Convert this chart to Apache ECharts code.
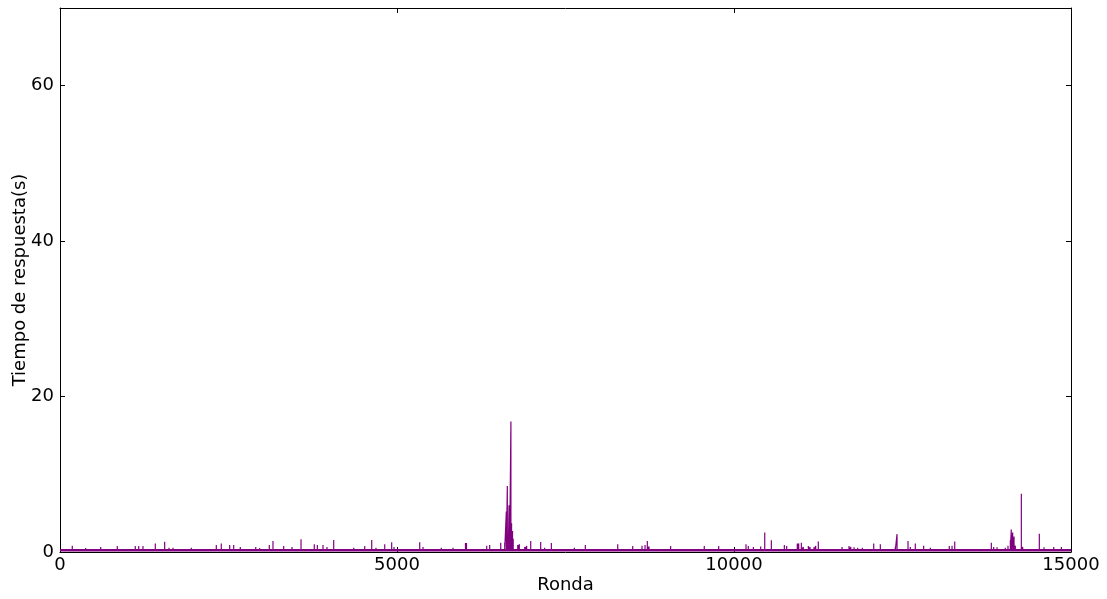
<!DOCTYPE html>
<html lang="es">
<head>
<meta charset="UTF-8">
<title>Tiempo de respuesta</title>
<script src="https://cdn.jsdelivr.net/npm/echarts@6/dist/echarts.min.js"></script>
<style>
  body { margin: 0; background: #fff; }
  #main { width: 1107px; height: 599px; }
</style>
</head>
<body>
<div id="main"></div>
<script type="text/javascript">
  // rounds where the response time jumps above the baseline
  var spikeRounds = [182, 381, 604, 850, 1117, 1168, 1231, 1414, 1553, 1617, 1677, 1948,
    2319, 2393, 2518, 2577, 2675, 2904, 2963, 3105, 3160, 3319, 3442, 3576, 3739, 3773,
    3818, 3902, 3961, 4061, 4174, 4358, 4521, 4625, 4688, 4818, 4921, 4956, 5337, 5386,
    5657, 5831, 6016, 6031, 6331, 6375, 6469, 6539, 6598, 6622, 6637, 6652, 6662, 6672,
    6690, 6700, 6714, 6724, 6791, 6815, 6895, 6924, 6984, 7132, 7191, 7290, 7384, 7533,
    7631, 7730, 7794, 8275, 8413, 8497, 8635, 8680, 8714, 8739, 8883, 8917, 9060, 9189,
    9322, 9559, 9773, 9877, 9971, 10055, 10178, 10212, 10287, 10396, 10456, 10554, 10747,
    10782, 10939, 10960, 10999, 11028, 11103, 11128, 11187, 11212, 11251, 11474, 11603,
    11706, 11732, 11781, 11835, 11904, 12073, 12171, 12255, 12304, 12393, 12419, 12582,
    12616, 12690, 12814, 12913, 13037, 13111, 13194, 13235, 13275, 13631, 13818, 13853,
    13902, 14025, 14065, 14100, 14114, 14135, 14155, 14174, 14263, 14283, 14373, 14471,
    14530, 14600, 14744, 14857];
  // peak time (s) at each of those rounds
  var spikeTimes = [0.8, 0.5, 0.65, 0.77, 0.77, 0.77, 0.77, 1.1, 1.33, 0.56, 0.56, 0.56,
    0.9, 1.1, 0.9, 0.9, 0.64, 0.64, 0.5, 0.9, 1.41, 0.77, 0.64, 1.63, 0.47, 1.0,
    0.9, 0.9, 0.64, 1.54, 0.47, 0.56, 0.77, 1.54, 0.56, 1.0, 1.25, 0.64, 1.25, 0.64,
    0.56, 0.56, 1.15, 1.15, 0.8, 0.9, 0.47, 1.2, 1.2, 5.2, 8.5, 2.0, 6.0, 4.0,
    16.8, 3.7, 2.7, 1.7, 0.9, 1.0, 0.64, 0.77, 1.4, 1.3, 0.56, 1.15, 0.45, 0.47,
    0.56, 0.47, 0.9, 1.0, 0.47, 0.77, 0.8, 0.9, 1.4, 0.7, 0.47, 0.47, 0.77, 0.47,
    0.47, 0.77, 0.77, 0.47, 0.47, 0.47, 1.0, 0.77, 0.64, 0.7, 2.5, 1.5, 0.9,
    0.77, 1.1, 1.1, 1.2, 0.64, 0.77, 0.64, 0.6, 0.77, 1.35, 0.47, 0.64,
    0.77, 0.64, 0.6, 0.56, 0.56, 1.1, 1.0, 0.47, 0.47, 0.64, 2.3, 1.4,
    0.64, 1.1, 0.8, 0.56, 0.47, 0.47, 0.77, 0.8, 1.35, 0.47, 1.2, 0.64,
    0.6, 0.56, 0.8, 1.5, 2.9, 2.5, 2.0, 0.8, 7.5, 0.64, 0.47, 0.47,
    2.35, 0.6, 0.64, 0.64];
  var baseTime = 0.22;
  var xTicks = [0, 5000, 10000, 15000];
  var yTicks = [0, 20, 40, 60];

  var lineData = [[0, baseTime]];
  for (var i = 0; i < spikeRounds.length; i++) {
    lineData.push([spikeRounds[i], baseTime]);
    lineData.push([spikeRounds[i], spikeTimes[i]]);
    lineData.push([spikeRounds[i], baseTime]);
  }
  lineData.push([15000, baseTime]);

  var font = 'DejaVu Sans';
  var axisLine = { show: true, onZero: false, lineStyle: { color: '#000', width: 1 } };
  function ticks(vals) {
    return { show: true, inside: true, length: 5, customValues: vals, lineStyle: { color: '#000' } };
  }
  function plain(v) { return String(v); }

  var myChart = echarts.init(document.getElementById('main'));
  myChart.setOption({
    animation: false,
    grid: { left: 60, right: 36, top: 8, bottom: 47, containLabel: false, outerBoundsMode: 'none' },
    xAxis: [{
      type: 'value', min: 0, max: 15000,
      name: 'Ronda', nameLocation: 'middle', nameGap: 24, nameMoveOverlap: false,
      nameTextStyle: { fontFamily: font, fontSize: 18, color: '#000' },
      axisLine: axisLine, axisTick: ticks(xTicks),
      axisLabel: { fontFamily: font, fontSize: 18, color: '#000', margin: 4, customValues: xTicks, formatter: plain },
      splitLine: { show: false }
    }, {
      type: 'value', position: 'top', min: 0, max: 15000,
      axisLine: axisLine, axisTick: ticks(xTicks), axisLabel: { show: false },
      splitLine: { show: false }
    }],
    yAxis: [{
      type: 'value', min: 0, max: 70,
      name: 'Tiempo de respuesta(s)', nameLocation: 'middle', nameGap: 31, nameMoveOverlap: false,
      nameTextStyle: { fontFamily: font, fontSize: 18, color: '#000' },
      axisLine: axisLine, axisTick: ticks(yTicks),
      axisLabel: { fontFamily: font, fontSize: 18, color: '#000', margin: 6, customValues: yTicks, formatter: plain },
      splitLine: { show: false }
    }, {
      type: 'value', position: 'right', min: 0, max: 70,
      axisLine: axisLine, axisTick: ticks(yTicks), axisLabel: { show: false },
      splitLine: { show: false }
    }],
    series: [{
      type: 'line',
      data: [[0, baseTime], [15000, baseTime]],
      showSymbol: false, silent: true,
      lineStyle: { color: '#800080', width: 2.6 }
    }, {
      type: 'line',
      data: lineData,
      showSymbol: false, silent: true,
      lineStyle: { color: '#800080', width: 1.2 }
    }]
  });
</script>
</body>
</html>
